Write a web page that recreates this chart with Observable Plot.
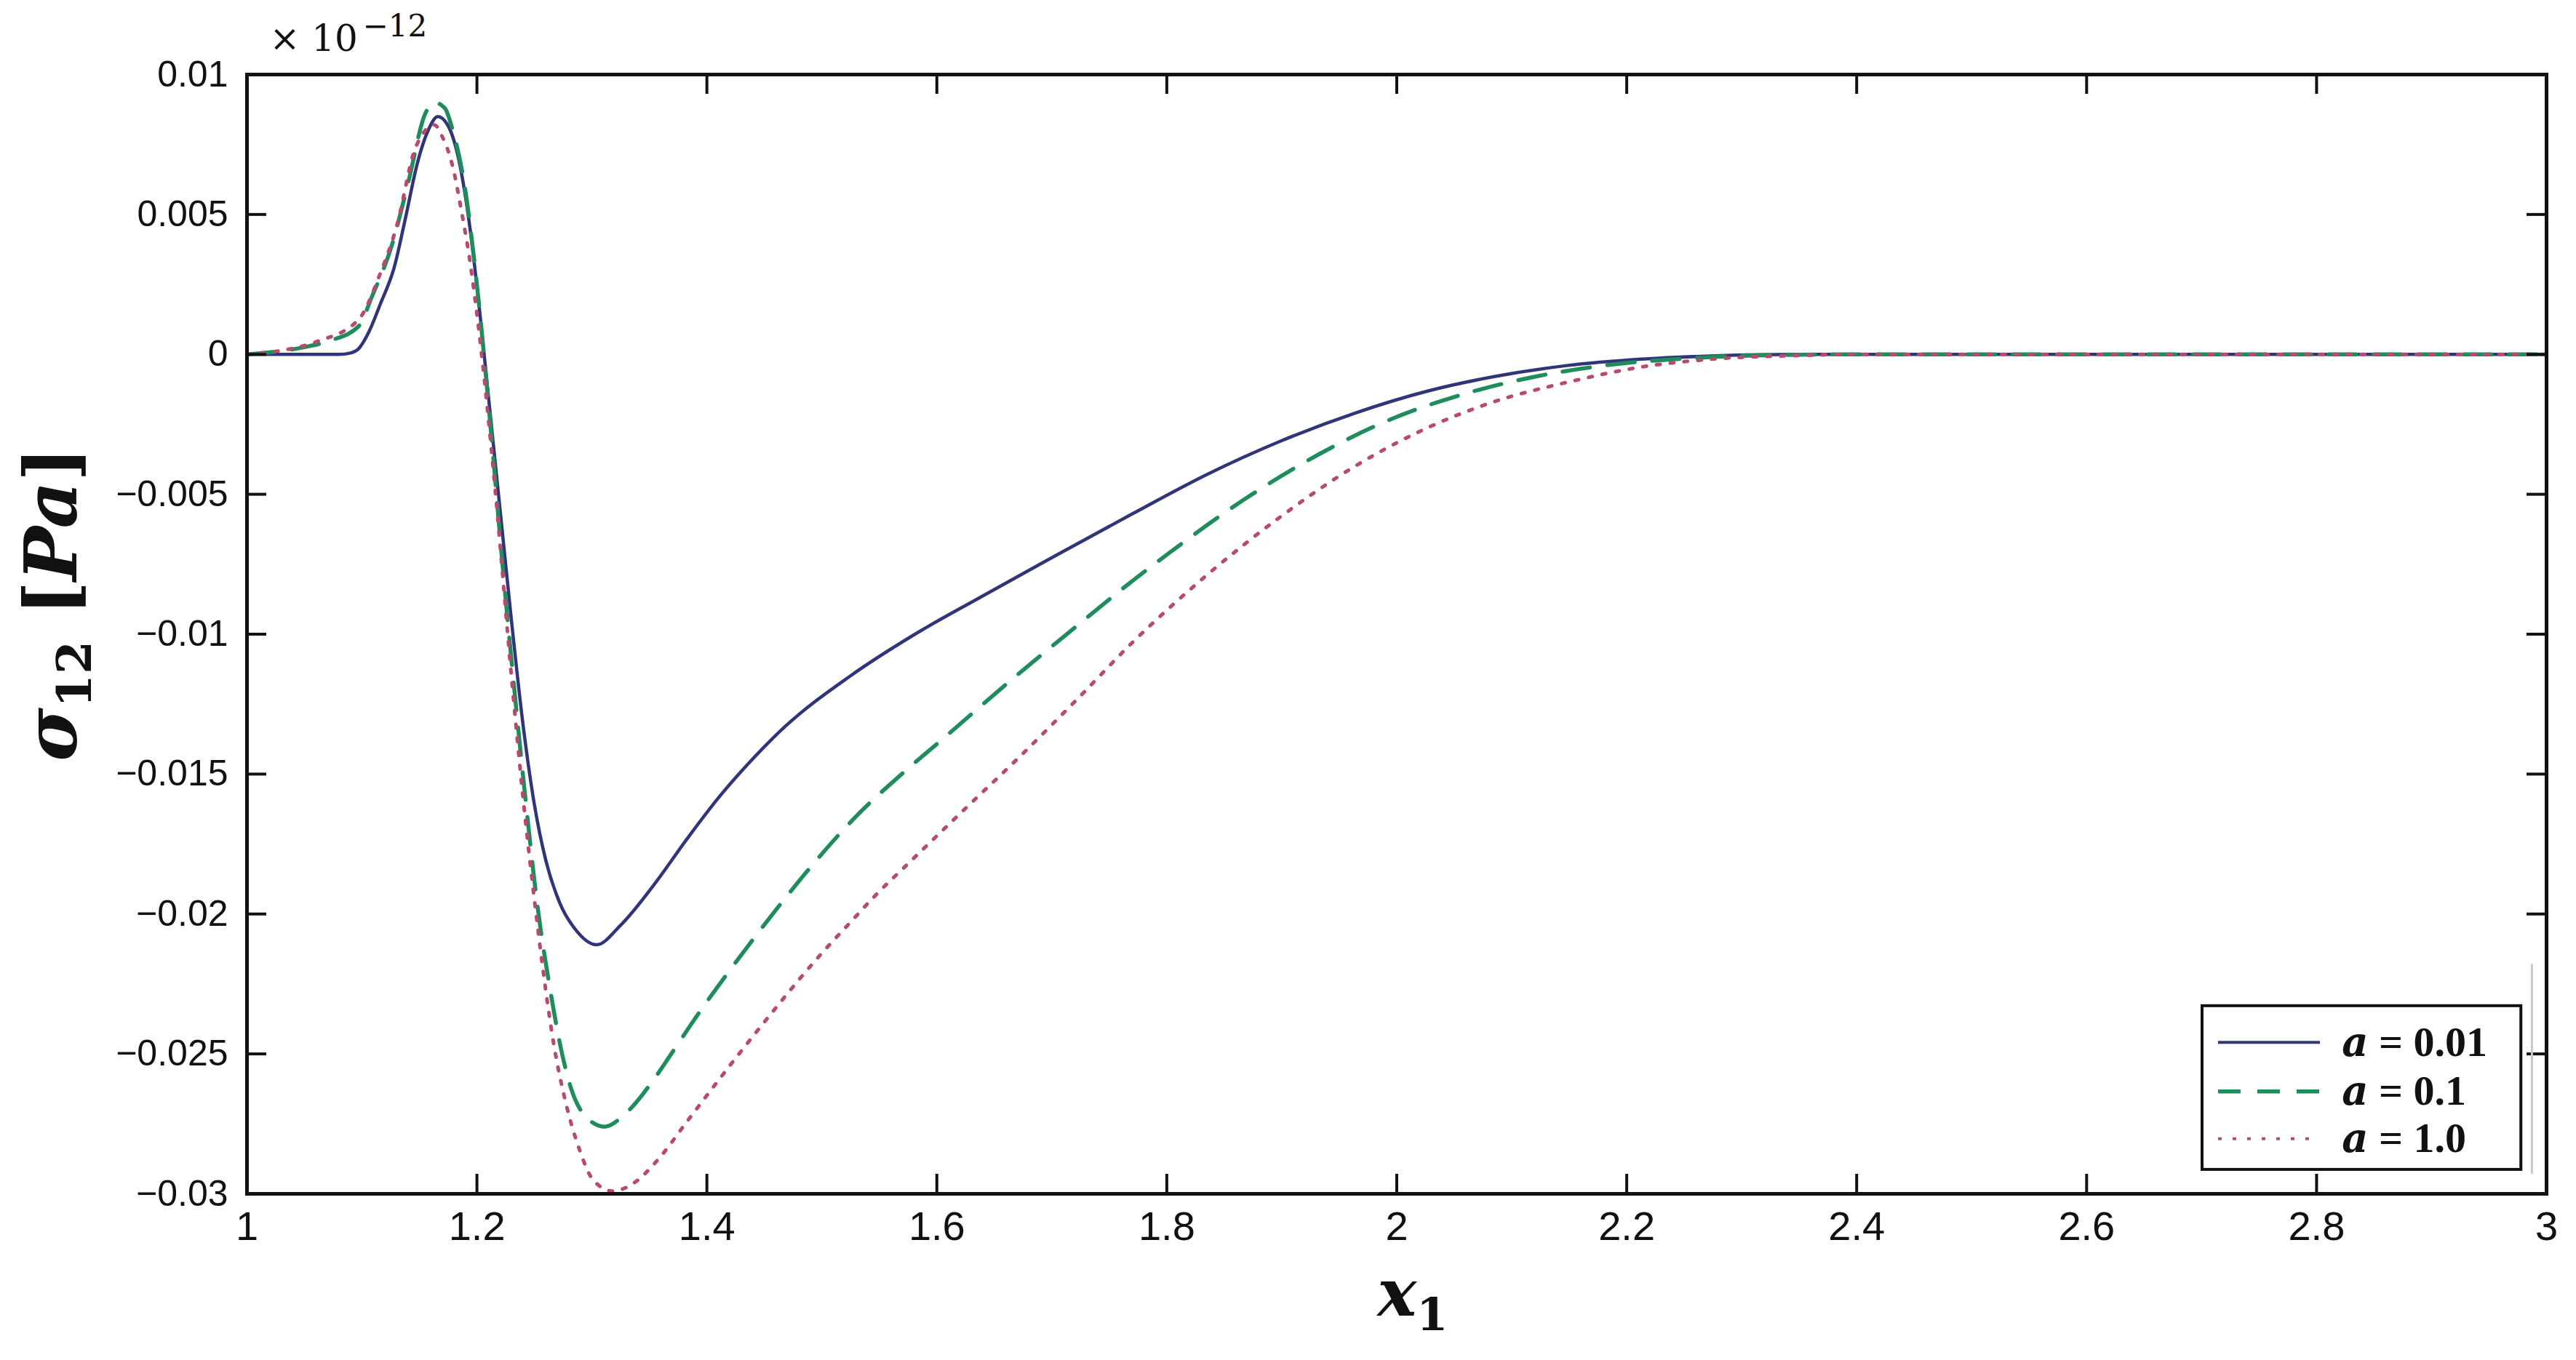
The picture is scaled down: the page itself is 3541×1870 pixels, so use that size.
<!DOCTYPE html>
<html>
<head>
<meta charset="utf-8">
<script src="https://cdn.jsdelivr.net/npm/d3@7"></script>
<script src="https://cdn.jsdelivr.net/npm/@observablehq/plot@0.6"></script>
<style>
  html, body { margin: 0; padding: 0; background: #fff; }
</style>
</head>
<body>
<div id="chart"></div>
<script>
// ---- data ----
const xTicks = [1, 1.2, 1.4, 1.6, 1.8, 2, 2.2, 2.4, 2.6, 2.8, 3];
const xTickLabels = ["1", "1.2", "1.4", "1.6", "1.8", "2", "2.2", "2.4", "2.6", "2.8", "3"];
const yTicks = [0.01, 0.005, 0, -0.005, -0.01, -0.015, -0.02, -0.025, -0.03];
const yTickLabels = ["0.01", "0.005", "0", "\u22120.005", "\u22120.01", "\u22120.015", "\u22120.02", "\u22120.025", "\u22120.03"];

const seriesNames = ["a = 0.01", "a = 0.1", "a = 1.0"];
const legendValues = ["0.01", "0.1", "1.0"];

const xBlue = [1.0, 1.04, 1.08, 1.09, 1.097, 1.106, 1.116, 1.128, 1.138, 1.148, 1.1575, 1.166, 1.1745, 1.184, 1.194, 1.203, 1.211, 1.22, 1.23, 1.24, 1.25, 1.26, 1.272, 1.2866, 1.304, 1.325, 1.355, 1.383, 1.411, 1.44, 1.468, 1.5245, 1.581, 1.637, 1.694, 1.77, 1.8345, 1.899, 1.9636, 2.028, 2.084, 2.148, 2.213, 2.277, 2.35, 2.5, 3.0];
const yBlue = [0, 0, 0, 0.00005, 0.0002, 0.0008, 0.0018, 0.0031, 0.0049, 0.0068, 0.0080, 0.0085, 0.0082, 0.0070, 0.0045, 0.0013, -0.0019, -0.0055, -0.0095, -0.0132, -0.0161, -0.0181, -0.0196, -0.0206, -0.0211, -0.0204, -0.0189, -0.0173, -0.0158, -0.01445, -0.0133, -0.0115, -0.0100, -0.0087, -0.0074, -0.0057, -0.0043, -0.0031, -0.0021, -0.0013, -0.0008, -0.0004, -0.00017, -0.00005, 0, 0, 0];

const xGreen = [1.0, 1.049, 1.073, 1.097, 1.109, 1.126, 1.140, 1.155, 1.163, 1.172, 1.179, 1.189, 1.201, 1.211, 1.2233, 1.235, 1.243, 1.2526, 1.2645, 1.272, 1.2816, 1.296, 1.311, 1.330, 1.354, 1.369, 1.392, 1.4366, 1.4707, 1.499, 1.530, 1.5694, 1.6036, 1.660, 1.716, 1.770, 1.802, 1.8668, 1.931, 1.996, 2.06, 2.12, 2.18, 2.25, 2.32, 2.4, 3.0];
const yGreen = [0, 0.00025, 0.0005, 0.001, 0.0021, 0.0039, 0.0061, 0.0086, 0.0090, 0.0088, 0.0080, 0.0061, 0.0021, -0.0022, -0.0080, -0.0130, -0.0162, -0.0197, -0.0229, -0.0246, -0.0262, -0.0273, -0.0276, -0.0271, -0.0259, -0.0250, -0.0236, -0.0211, -0.0193, -0.0179, -0.0165, -0.0150, -0.0138, -0.0118, -0.0099, -0.0081, -0.0071, -0.0052, -0.0036, -0.0023, -0.0014, -0.0008, -0.0004, -0.00015, -0.00003, 0, 0];

const xRed = [1.0, 1.024, 1.061, 1.097, 1.116, 1.131, 1.145, 1.155, 1.163, 1.1696, 1.179, 1.1866, 1.194, 1.201, 1.208, 1.216, 1.230, 1.240, 1.250, 1.2575, 1.267, 1.277, 1.289, 1.301, 1.318, 1.337, 1.357, 1.383, 1.409, 1.426, 1.463, 1.479, 1.500, 1.527, 1.545, 1.575, 1.623, 1.674, 1.725, 1.770, 1.8345, 1.899, 1.9636, 2.028, 2.084, 2.148, 2.213, 2.277, 2.35, 2.4, 3.0];
const yRed = [0, 0.0001, 0.00046, 0.00124, 0.0029, 0.0047, 0.0072, 0.0080, 0.0082, 0.0078, 0.0067, 0.0051, 0.0033, 0.0011, -0.0015, -0.0049, -0.0115, -0.0158, -0.0195, -0.0220, -0.0247, -0.0267, -0.0284, -0.0295, -0.0299, -0.0296, -0.0288, -0.0274, -0.0260, -0.0251, -0.0232, -0.0224, -0.0214, -0.0202, -0.0194, -0.0182, -0.0163, -0.0143, -0.0122, -0.0103, -0.0079, -0.0058, -0.0040, -0.0026, -0.0017, -0.0010, -0.00045, -0.00016, -0.00004, 0, 0];

// ---- layout / style ----
const W = 3541, H = 1870;
const mL = 339, mR = 41, mT = 102, mB = 229;
const plotW = W - mL - mR, plotH = H - mT - mB;
const tickLen = 27;
const colors = ["#30357a", "#1f8c5c", "#b84a6e"];
const dashes = [null, "38,24", "5,14"];
const widths = [4.5, 5.5, 5];

const toRows = (xs, ys, s) => xs.map((x, i) => ({x, y: ys[i], series: s}));
const rows = [
  toRows(xBlue, yBlue, seriesNames[0]),
  toRows(xGreen, yGreen, seriesNames[1]),
  toRows(xRed, yRed, seriesNames[2])
];

// legend layout in data units
const legX1 = 2.7007, legX2 = 2.978, legY1 = -0.02329, legY2 = -0.02914;
const legLineX1 = 2.7146, legLineX2 = 2.8032, legTextX = 2.822;
const legRowY = [-0.02459, -0.02634, -0.02803];
const legendRows = seriesNames.map((s, i) => ({s, y: legRowY[i], v: legendValues[i], i}));

const serif = "'DejaVu Serif', serif";
const tserif = "'Liberation Serif', 'Times New Roman', serif";

const chart = Plot.plot({
  width: W, height: H,
  marginLeft: mL, marginRight: mR, marginTop: mT, marginBottom: mB,
  style: {background: "#fff", fontFamily: "'Liberation Sans', Arial, sans-serif", overflow: "visible"},
  x: {domain: [1, 3]},
  y: {domain: [-0.03, 0.01]},
  marks: [
    // curves
    ...rows.map((r, i) => Plot.line(r, {
      x: "x", y: "y", stroke: colors[i], strokeWidth: widths[i],
      strokeDasharray: dashes[i] ?? undefined, curve: "monotone-x"
    })),
    // inward ticks on all four sides
    Plot.tickY(yTicks, {y: d => d, insetRight: plotW - tickLen, stroke: "#111", strokeWidth: 4}),
    Plot.tickY(yTicks, {y: d => d, insetLeft: plotW - tickLen, stroke: "#111", strokeWidth: 4}),
    Plot.tickX(xTicks, {x: d => d, insetTop: plotH - tickLen, stroke: "#111", strokeWidth: 4}),
    Plot.tickX(xTicks, {x: d => d, insetBottom: plotH - tickLen, stroke: "#111", strokeWidth: 4}),
    Plot.axisX({ticks: xTicks, tickFormat: d => xTickLabels[xTicks.indexOf(d)], tickSize: 0, tickPadding: 24,
      fontSize: 56, label: null, fill: "#111", style: "letter-spacing:-2px"}),
    Plot.axisY({ticks: yTicks, tickFormat: d => yTickLabels[yTicks.indexOf(d)], tickSize: 0, tickPadding: 26,
      fontSize: 50, label: null, fill: "#111"}),
    // thin gray artefact line near the right edge
    Plot.ruleX([2.9873], {y1: -0.0218, y2: -0.0293, stroke: "#c8c8c8", strokeWidth: 3}),
    // legend
    Plot.rect([0], {x1: legX1, x2: legX2, y1: legY1, y2: legY2, fill: "#fff", stroke: "#111", strokeWidth: 4}),
    ...legendRows.map(d => Plot.ruleY([d.y], {x1: legLineX1, x2: legLineX2, stroke: colors[d.i],
      strokeWidth: d.i === 1 ? 5.5 : 4, strokeDasharray: d.i === 1 ? "31,23" : d.i === 2 ? "5,15" : undefined})),
    Plot.text(legendRows, {x: legTextX, y: "y", text: d => d.s, textAnchor: "start", fontSize: 58,
      fontFamily: tserif, fontWeight: "bold", fill: "#111", className: "legtext", style: "letter-spacing:2px"}),
    Plot.frame({stroke: "#111", strokeWidth: 5}),
    // axis labels
    Plot.text(["x1"], {frameAnchor: "bottom", dx: 22, dy: 1808 - (H - mB), lineAnchor: "bottom", textAnchor: "middle",
      fontSize: 90, fontFamily: serif, fontWeight: "bold", fill: "#111", className: "xlab"}),
    Plot.text(["s12 [Pa]"], {frameAnchor: "left", dx: 104 - mL, dy: 830 - (mT + plotH / 2), rotate: -90,
      lineAnchor: "bottom", textAnchor: "middle", fontSize: 100, fontFamily: serif, fontWeight: "bold", fill: "#111",
      className: "ylab", style: "letter-spacing:5px"}),
    // exponent
    Plot.text(["\u00d7 10"], {frameAnchor: "top-left", dx: 370 - mL, dy: 69 - mT, lineAnchor: "bottom",
      textAnchor: "start", fontSize: 50, fontFamily: serif, fill: "#111"}),
    Plot.text(["\u221212"], {frameAnchor: "top-left", dx: 498 - mL, dy: 49 - mT, lineAnchor: "bottom",
      textAnchor: "start", fontSize: 42, fontFamily: serif, fill: "#111"})
  ]
});

document.getElementById("chart").appendChild(chart);

// rich text (italic symbols, subscripts) for labels
const ns = "http://www.w3.org/2000/svg";
function setSpans(textEl, parts) {
  while (textEl.firstChild) textEl.removeChild(textEl.firstChild);
  for (const p of parts) {
    const t = document.createElementNS(ns, "tspan");
    t.textContent = p.t;
    if (p.style) t.setAttribute("font-style", p.style);
    if (p.size) t.setAttribute("font-size", p.size);
    if (p.dy) t.setAttribute("dy", p.dy);
    if (p.family) t.setAttribute("font-family", p.family);
    textEl.appendChild(t);
  }
}
chart.querySelectorAll(".xlab text").forEach(t => setSpans(t, [
  {t: "x", style: "italic"},
  {t: "1", style: "normal", size: 62, dy: 20}
]));
chart.querySelectorAll(".ylab text").forEach(t => setSpans(t, [
  {t: "\u03c3", style: "italic"},
  {t: "12", style: "normal", size: 66, dy: 20},
  {t: " [", style: "normal", dy: -20},
  {t: "Pa", style: "italic"},
  {t: "]", style: "normal"}
]));
chart.querySelectorAll(".legtext text").forEach((t, i) => setSpans(t, [
  {t: "a", style: "italic", family: serif, size: 56},
  {t: " = " + legendValues[i], style: "normal"}
]));
</script>
</body>
</html>
